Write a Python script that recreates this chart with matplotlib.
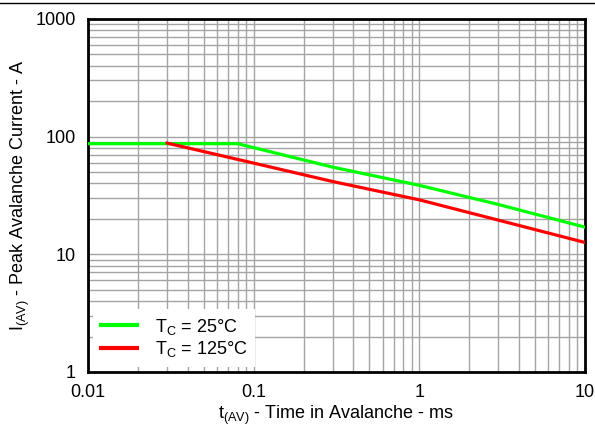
import matplotlib
matplotlib.use("Agg")
import matplotlib.pyplot as plt
from matplotlib.lines import Line2D

plt.rcParams['font.family'] = ['Liberation Sans', 'DejaVu Sans']
plt.rcParams['mathtext.fontset'] = 'custom'
plt.rcParams['mathtext.rm'] = 'Liberation Sans'
plt.rcParams['mathtext.it'] = 'Liberation Sans'

# time in avalanche (ms) and peak current (A)
t_25 = [0.01, 0.08, 0.3, 1.0, 3.0, 10.0]
i_25 = [87, 87, 55, 38.5, 26.5, 17]
t_125 = [0.03, 0.1, 0.3, 1.0, 3.0, 10.0]
i_125 = [88, 59.5, 41.5, 29, 19.5, 12.6]

fig = plt.figure(figsize=(5.95, 4.29), dpi=100)
ax = fig.add_axes([0.148, 0.133, 0.835, 0.823])

ax.plot(t_25, i_25, color='#00ff00', lw=2.3, label=r'T$_\mathrm{C}$ = 25°C', zorder=3)
ax.plot(t_125, i_125, color='#ff0000', lw=2.3, label=r'T$_\mathrm{C}$ = 125°C', zorder=3)

ax.set_xscale('log')
ax.set_yscale('log')
ax.set_xlim(0.01, 10)
ax.set_ylim(1, 1000)
ax.set_xticks([0.01, 0.1, 1, 10])
ax.set_xticklabels(['0.01', '0.1', '1', '10'])
ax.set_yticks([1, 10, 100, 1000])
ax.set_yticklabels(['1', '10', '100', '1000'])
ax.grid(True, which='both', color='#a4a4a4', lw=1.0)
ax.tick_params(which='both', length=0, labelsize=13)
ax.tick_params(axis='x', pad=9)
ax.tick_params(axis='y', pad=9)
for s in ax.spines.values():
    s.set_linewidth(2)

ax.set_xlabel(r't$_\mathrm{(AV)}$ - Time in Avalanche - ms', fontsize=13, labelpad=2)
ax.set_ylabel(r'I$_\mathrm{(AV)}$ - Peak Avalanche Current - A', fontsize=13, labelpad=2)

leg = ax.legend(loc='lower left', fontsize=13, handlelength=2.0, borderaxespad=0.3,
                frameon=True, fancybox=False, framealpha=1, labelspacing=0.15,
                handletextpad=1.0)
leg.get_frame().set_edgecolor('none')
for h in leg.get_lines():
    h.set_linewidth(3)

fig.add_artist(Line2D([0, 1], [0.993, 0.993], color='black', lw=1))

fig.savefig('out.png', dpi=100)
